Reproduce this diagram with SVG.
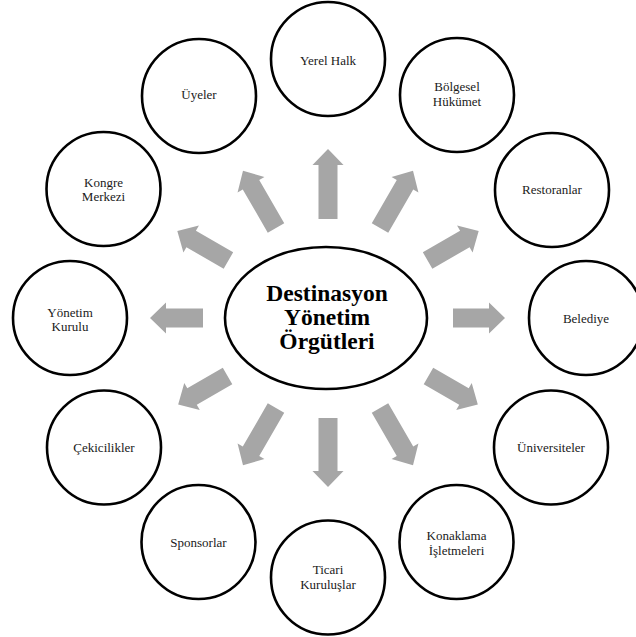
<svg xmlns="http://www.w3.org/2000/svg" width="636" height="637" viewBox="0 0 636 637">
  <style>
    .node circle { fill: #ffffff; stroke: #000000; stroke-width: 2.6; }
    .node text { font-size: 13px; fill: #1a1a1a; text-anchor: middle; }
    .hub ellipse { fill: #ffffff; stroke: #000000; stroke-width: 2.6; }
    .hub text { font-size: 23.5px; font-weight: bold; fill: #000000; text-anchor: middle; }
    .arrow { fill: #a6a6a6; }
  </style>
  <rect width="636" height="637" fill="#ffffff"/>

  <!-- block arrows radiating from the hub; each drawn along +x then rotated -->
  <g id="connectors">
    <path class="arrow" transform="translate(328 318) rotate(-90)" d="M99,-9.5 H153 V-15.5 L169,0 L153,15.5 V9.5 H99 Z"/>
    <path class="arrow" transform="translate(328 318) rotate(-60)" d="M104,-9.5 H154 V-15.5 L170,0 L154,15.5 V9.5 H104 Z"/>
    <path class="arrow" transform="translate(328 318) rotate(-30)" d="M115,-9.5 H158 V-15.5 L174,0 L158,15.5 V9.5 H115 Z"/>
    <path class="arrow" transform="translate(328 318) rotate(0)" d="M125,-9.5 H161 V-15.5 L177,0 L161,15.5 V9.5 H125 Z"/>
    <path class="arrow" transform="translate(328 318) rotate(30)" d="M116,-9.5 H157 V-15.5 L173,0 L157,15.5 V9.5 H116 Z"/>
    <path class="arrow" transform="translate(328 318) rotate(60)" d="M104,-9.5 H154 V-15.5 L170,0 L154,15.5 V9.5 H104 Z"/>
    <path class="arrow" transform="translate(328 318) rotate(90)" d="M100,-9.5 H153 V-15.5 L169,0 L153,15.5 V9.5 H100 Z"/>
    <path class="arrow" transform="translate(328 318) rotate(120)" d="M104,-9.5 H154 V-15.5 L170,0 L154,15.5 V9.5 H104 Z"/>
    <path class="arrow" transform="translate(328 318) rotate(150)" d="M116,-9.5 H157 V-15.5 L173,0 L157,15.5 V9.5 H116 Z"/>
    <path class="arrow" transform="translate(328 318) rotate(180)" d="M125,-9.5 H162 V-15.5 L178,0 L162,15.5 V9.5 H125 Z"/>
    <path class="arrow" transform="translate(328 318) rotate(210)" d="M115,-9.5 H158 V-15.5 L174,0 L158,15.5 V9.5 H115 Z"/>
    <path class="arrow" transform="translate(328 318) rotate(240)" d="M104,-9.5 H154 V-15.5 L170,0 L154,15.5 V9.5 H104 Z"/>
  </g>

  <g font-family="Liberation Serif, Times New Roman, DejaVu Serif, serif">
    <g id="hub" class="hub">
      <ellipse cx="326" cy="318" rx="101" ry="71"/>
      <text x="327" y="301">Destinasyon</text>
      <text x="327" y="325">Yönetim</text>
      <text x="327" y="349">Örgütleri</text>
    </g>

    <g id="yerel-halk" class="node">
      <circle cx="328" cy="59" r="57"/>
      <text x="328" y="65">Yerel Halk</text>
    </g>
    <g id="bolgesel-hukumet" class="node">
      <circle cx="457" cy="95" r="57"/>
      <text x="457" y="91">Bölgesel</text>
      <text x="457" y="106">Hükümet</text>
    </g>
    <g id="restoranlar" class="node">
      <circle cx="552" cy="190" r="57"/>
      <text x="552" y="193.5">Restoranlar</text>
    </g>
    <g id="belediye" class="node">
      <circle cx="586" cy="318" r="57"/>
      <text x="586" y="323">Belediye</text>
    </g>
    <g id="universiteler" class="node">
      <circle cx="551" cy="447.5" r="57"/>
      <text x="551" y="452">Üniversiteler</text>
    </g>
    <g id="konaklama-isletmeleri" class="node">
      <circle cx="456.5" cy="542" r="57"/>
      <text x="456.5" y="540">Konaklama</text>
      <text x="456.5" y="554.5">İşletmeleri</text>
    </g>
    <g id="ticari-kuruluslar" class="node">
      <circle cx="328" cy="577.5" r="57"/>
      <text x="328" y="574">Ticari</text>
      <text x="328" y="588.5">Kuruluşlar</text>
    </g>
    <g id="sponsorlar" class="node">
      <circle cx="198.5" cy="542" r="57"/>
      <text x="198.5" y="547">Sponsorlar</text>
    </g>
    <g id="cekicilikler" class="node">
      <circle cx="104" cy="447.5" r="57"/>
      <text x="104" y="452">Çekicilikler</text>
    </g>
    <g id="yonetim-kurulu" class="node">
      <circle cx="70" cy="318" r="57"/>
      <text x="70" y="316.5">Yönetim</text>
      <text x="70" y="331">Kurulu</text>
    </g>
    <g id="kongre-merkezi" class="node">
      <circle cx="103.5" cy="189" r="57"/>
      <text x="103.5" y="186.5">Kongre</text>
      <text x="103.5" y="201">Merkezi</text>
    </g>
    <g id="uyeler" class="node">
      <circle cx="199" cy="96" r="57"/>
      <text x="199" y="98.5">Üyeler</text>
    </g>
  </g>
</svg>
